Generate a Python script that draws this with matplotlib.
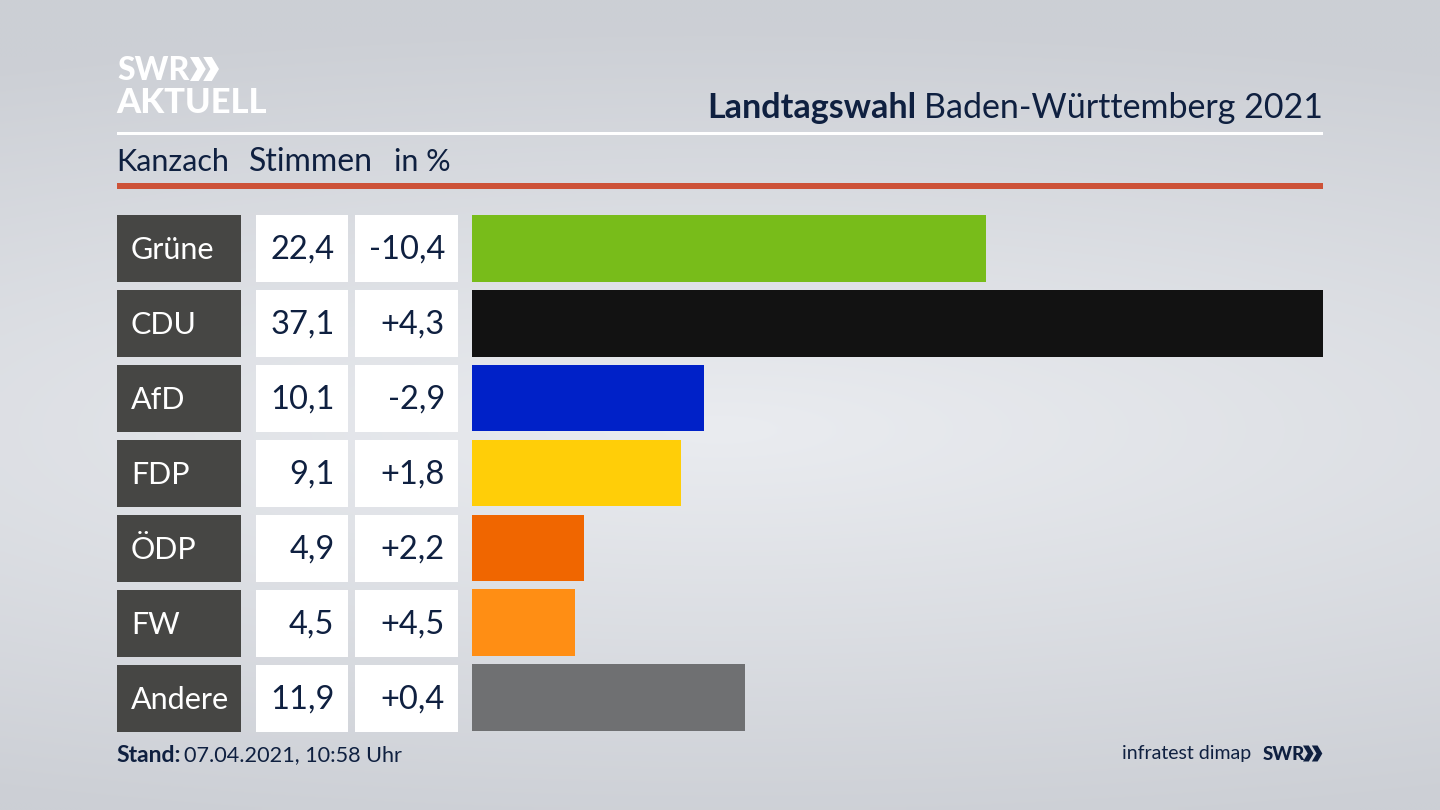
import numpy as np
import matplotlib
matplotlib.use("Agg")
import matplotlib.pyplot as plt
from matplotlib.patches import Rectangle, Polygon

parties = ["Grüne", "CDU", "AfD", "FDP", "ÖDP", "FW", "Andere"]
stimmen = [22.4, 37.1, 10.1, 9.1, 4.9, 4.5, 11.9]
diff = [-10.4, 4.3, -2.9, 1.8, 2.2, 4.5, 0.4]
colors = ["#78bc1a", "#121212", "#0021c8", "#ffce08", "#f06600", "#ff8e14", "#6f7072"]

NAVY = "#0f2040"
W, H = 1440, 810
plt.rcParams["font.family"] = ["Lato", "DejaVu Sans"]


def de(v, sign=False):
    s = f"{v:+.1f}" if sign else f"{v:.1f}"
    return s.replace(".", ",")


def chevrons(ax, x, y, h, color):
    # the two >> of the SWR logo
    w = h * 0.55
    t = h * 0.36
    for dx in (0, w * 1.0):
        pts = [(x + dx, y), (x + dx + t, y), (x + dx + w + t * 0.3, y + h / 2),
               (x + dx + t, y + h), (x + dx, y + h), (x + dx + w - t * 0.7, y + h / 2)]
        ax.add_patch(Polygon(pts, closed=True, fc=color, ec="none"))


fig = plt.figure(figsize=(14.4, 8.1), dpi=100)

# overlay in pixel coordinates for background and table cells
bg = fig.add_axes([0, 0, 1, 1])
bg.set_xlim(0, W)
bg.set_ylim(H, 0)
bg.axis("off")

yy, xx = np.mgrid[0:H:162j, 0:W:288j]
r = np.sqrt(((xx - 720) / 1700) ** 2 + ((yy - 430) / 410) ** 2)
r = np.clip(r, 0, 1)[..., None]
inner = np.array([234, 236, 240]) / 255
outer = np.array([204, 207, 213]) / 255
bg.imshow(inner * (1 - r) + outer * r, extent=(0, W, H, 0), aspect="auto", interpolation="bilinear", zorder=0)

# header
bg.text(117, 70, "SWR", color="white", fontsize=23, fontweight="black", va="center", ha="left")
chevrons(bg, 190, 57, 24, "white")
bg.text(116, 103, "AKTUELL", color="white", fontsize=24.8, fontweight="black", va="center", ha="left")
bg.add_patch(Rectangle((117, 132), 1206, 3, fc="white", ec="none"))
bg.add_patch(Rectangle((117, 183), 1206, 6, fc="#cd5238", ec="none"))

title_b = bg.text(1323, 108, "Baden-Württemberg 2021", color=NAVY, fontsize=24.5, va="center", ha="right")
fig.canvas.draw()
bb = title_b.get_window_extent()
bg.text(bb.x0 - 8, 108, "Landtagswahl", color=NAVY, fontsize=24.5, fontweight="bold", va="center", ha="right")

bg.text(116, 162, "Kanzach", color=NAVY, fontsize=22, va="center")
bg.text(249, 162, "Stimmen", color=NAVY, fontsize=23, va="center")
bg.text(394, 162, "in %", color=NAVY, fontsize=22, va="center")

# table cells
for i, p in enumerate(parties):
    top = 215 + i * 75
    mid = top + 35
    bg.add_patch(Rectangle((117, top), 124, 66.5, fc="#464644", ec="none"))
    bg.add_patch(Rectangle((256, top), 92, 66.5, fc="white", ec="none"))
    bg.add_patch(Rectangle((355, top), 103, 66.5, fc="white", ec="none"))
    bg.text(131, mid, p, color="white", fontsize=22, va="center")
    bg.text(334.5, mid, de(stimmen[i]), color=NAVY, fontsize=23.5, va="center", ha="right")
    bg.text(445, mid, de(diff[i], sign=True), color=NAVY, fontsize=23.5, va="center", ha="right")

# footer
stand = bg.text(116, 755, "Stand:", color=NAVY, fontsize=16.5, fontweight="bold", va="center")
fig.canvas.draw()
bb = stand.get_window_extent()
bg.text(bb.x1 + 4, 755, "07.04.2021, 10:58 Uhr", color=NAVY, fontsize=15.6, va="center")
bg.text(1251, 754, "infratest dimap", color=NAVY, fontsize=14, va="center", ha="right")
bg.text(1263, 754, "SWR", color=NAVY, fontsize=13.5, fontweight="black", va="center")
chevrons(bg, 1303, 745.5, 16, NAVY)

# bars
ax = fig.add_axes([472 / W, 1 - 731 / H, (1323 - 472) / W, (731 - 215) / H])
ax.patch.set_alpha(0)
ax.barh(range(len(parties)), stimmen, height=66.8 / 75, color=colors)
ax.set_xlim(0, max(stimmen))
ax.set_ylim(6 + 33.4 / 75, -33.4 / 75)
ax.axis("off")

fig.savefig("out.png", dpi=100)
